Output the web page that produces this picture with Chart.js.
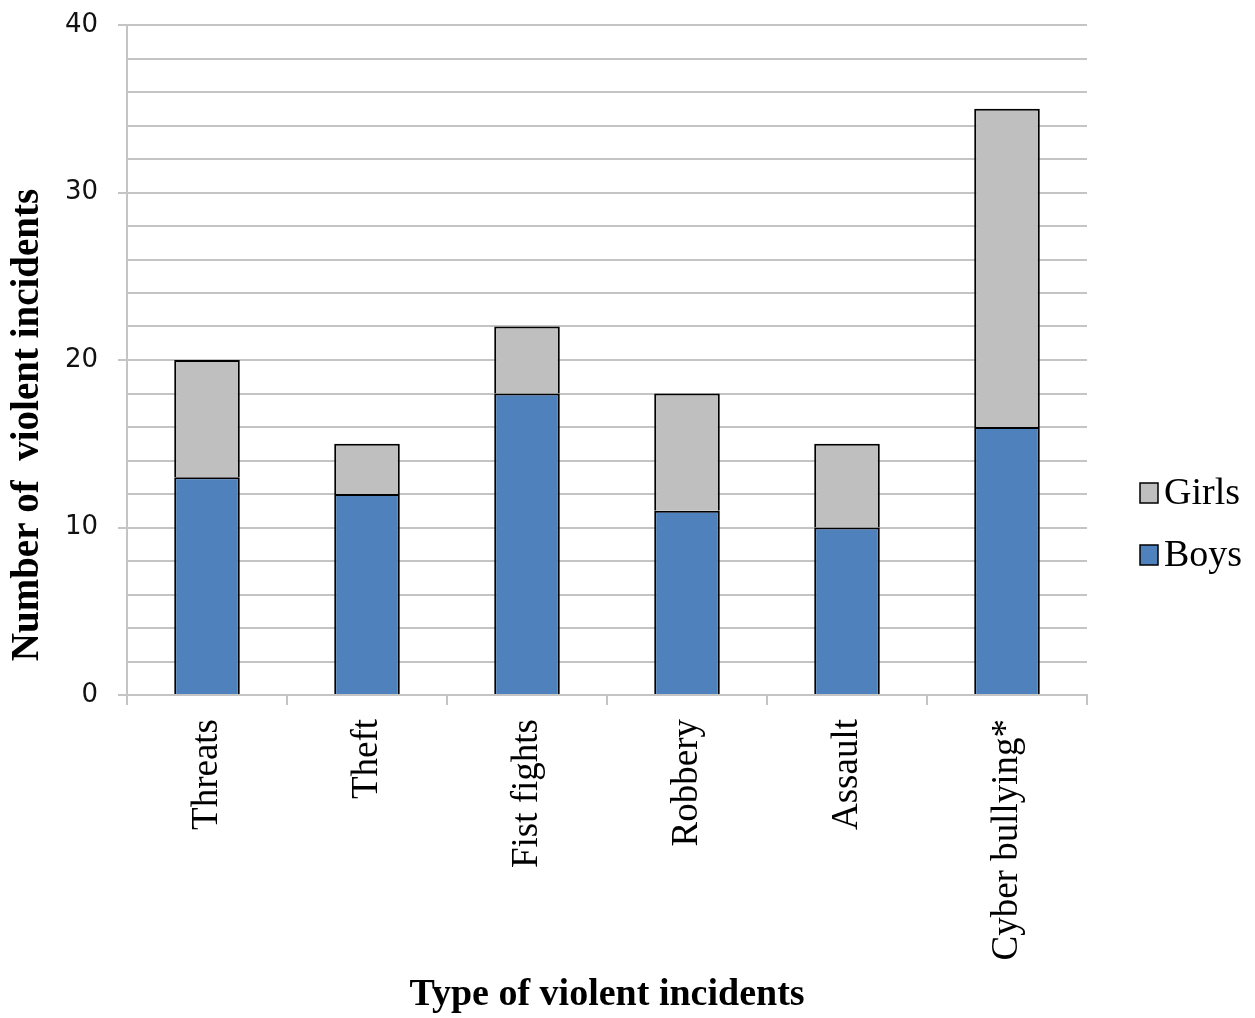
<!DOCTYPE html>
<html>
<head>
<meta charset="utf-8">
<title>Violent incidents by type</title>
<script src="https://cdn.jsdelivr.net/npm/chart.js@4.4.1/dist/chart.umd.min.js"></script>
<style>
  html, body { margin: 0; padding: 0; background: #ffffff; }
  #wrap { width: 1255px; height: 1018px; }
</style>
</head>
<body>
<div id="wrap"><canvas id="c" width="1255" height="1018"></canvas></div>
<script>
// Incident types and counts per gender
const categories = ['Threats', 'Theft', 'Fist fights', 'Robbery', 'Assault', 'Cyber bullying*'];
const boys = [13, 12, 18, 11, 10, 16];
const girls = [7, 3, 4, 7, 5, 19];
const yTickLabels = [0, 10, 20, 30, 40];
const xTitle = 'Type of violent incidents';
const yTitle = 'Number of  violent incidents';

const GRID = '#c4c4c4';
const SERIF = "'Liberation Serif', 'Times New Roman', serif";

// Rotated y-axis title plus a right-hand legend (Girls above Boys)
const extras = {
  id: 'extras',
  afterDraw(chart) {
    const ctx = chart.ctx;
    ctx.save();
    // y title
    ctx.translate(28, 425);
    ctx.rotate(-Math.PI / 2);
    ctx.font = "bold 39px " + SERIF;
    ctx.fillStyle = '#000';
    ctx.textAlign = 'center';
    ctx.textBaseline = 'middle';
    ctx.fillText(yTitle, 0, 0);
    ctx.restore();

    // legend
    ctx.save();
    const items = chart.data.datasets.slice().reverse();
    const ys = [493, 555];
    ctx.font = "38px " + SERIF;
    ctx.textBaseline = 'middle';
    ctx.textAlign = 'left';
    items.forEach((ds, i) => {
      const cy = ys[i];
      ctx.fillStyle = ds.backgroundColor;
      ctx.fillRect(1140, cy - 10, 18, 20);
      ctx.strokeStyle = '#000';
      ctx.lineWidth = 1.5;
      ctx.strokeRect(1140, cy - 10, 18, 20);
      ctx.fillStyle = '#000';
      ctx.fillText(ds.label, 1164, cy + 1);
    });
    ctx.restore();
  }
};

new Chart(document.getElementById('c'), {
  type: 'bar',
  data: {
    labels: categories,
    datasets: [
      { label: 'Boys', data: boys, backgroundColor: '#4f81bd', borderColor: '#000', borderWidth: 2 },
      { label: 'Girls', data: girls, backgroundColor: '#bfbfbf', borderColor: '#000', borderWidth: 2 }
    ]
  },
  options: {
    responsive: false,
    animation: false,
    layout: { padding: { top: 25, right: 168, left: 0, bottom: 0 } },
    plugins: { legend: { display: false }, tooltip: { enabled: false } },
    datasets: { bar: { barPercentage: 0.41, categoryPercentage: 1.0 } },
    scales: {
      x: {
        stacked: true,
        offset: true,
        grid: { display: true, offset: true, drawOnChartArea: false, drawTicks: true, tickLength: 10, color: GRID, lineWidth: 2 },
        border: { display: true, color: GRID, width: 2 },
        ticks: {
          minRotation: 90, maxRotation: 90, padding: 14,
          color: '#000',
          font: { family: SERIF, size: 37 }
        },
        title: {
          display: true, text: xTitle, color: '#000',
          font: { family: SERIF, size: 38, weight: 'bold' },
          padding: { top: 0, bottom: 0 }
        },
        afterFit(scale) {
          scale.height = 323;
          scale.paddingLeft = 0;
          scale.paddingRight = 0;
        }
      },
      y: {
        stacked: true,
        min: 0, max: 40,
        grid: {
          color: GRID, lineWidth: 2, tickLength: 9,
          tickColor: (c) => (c.tick && yTickLabels.includes(c.tick.value)) ? GRID : 'rgba(0,0,0,0)'
        },
        border: { display: true, color: GRID, width: 2 },
        ticks: {
          stepSize: 2, autoSkip: false, padding: 20, color: '#111',
          font: { family: "'DejaVu Sans', sans-serif", size: 26 },
          callback: (v) => yTickLabels.includes(v) ? String(v) : ''
        },
        afterFit(scale) {
          scale.width = 127;
          scale.paddingTop = 0;
          scale.paddingBottom = 0;
        }
      }
    }
  },
  plugins: [extras]
});
</script>
</body>
</html>
